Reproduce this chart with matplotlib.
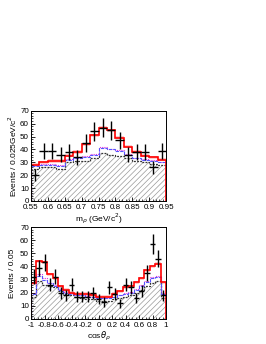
import numpy as np
import matplotlib
matplotlib.use('Agg')
import matplotlib.pyplot as plt
from matplotlib.ticker import MultipleLocator

plt.rcParams['font.family'] = ['Liberation Sans', 'DejaVu Sans']
plt.rcParams['hatch.linewidth'] = 0.5
plt.rcParams['hatch.color'] = '#888888'

# top panel: m_rho, 16 bins of 0.025
m_edges = np.linspace(0.55, 0.95, 17)
m_data = [20, 39, 39, 36, 38, 34, 45, 54, 57, 55, 47, 36, 38, 38, 26, 39]
m_total = [28, 30, 31, 31, 35, 38, 44, 51, 57, 55, 49, 42, 38, 35, 34, 32]
m_blue = [27, 28, 28, 27, 32, 33, 34, 36, 41, 40, 39, 36, 33, 32, 31, 30]
m_mag = [27.5, 28.5, 28.5, 27.5, 32.5, 33.5, 34.5, 36.5, 41.5, 40.5, 39.5, 36.5, 33.5, 32.5, 31.5, 30.5]
m_black = [25, 26, 26, 25, 30, 31, 31, 33, 37, 36, 35, 33, 31, 30, 29, 28]

# bottom panel: cos(theta_rho), 25 bins of 0.08
c_edges = np.linspace(-1, 1, 26)
c_data = [32, 39, 43, 26, 32, 20, 18, 26, 17, 17, 17, 20, 15, 13, 24, 19, 12, 26, 24, 16, 21, 35, 57, 46, 18]
c_total = [27, 44, 43, 34, 31, 25, 22, 20, 19, 19, 19, 18, 17, 17, 17, 19, 21, 24, 25, 28, 31, 37, 40, 42, 28]
c_blue = [19, 33, 30, 27, 25, 22, 20, 19, 18, 18, 17, 17, 16, 16, 16, 17, 18, 19, 20, 22, 25, 28, 31, 32, 19]
c_mag = [20, 34, 31, 27.5, 25.5, 22.5, 20.5, 19.5, 18.5, 18, 17.5, 17, 16.5, 16, 16.5, 17, 18, 19.5, 20.5, 22.5, 25.5, 29, 32, 33, 20]
c_black = [17, 29, 26, 25, 24, 21, 19, 18, 17, 16, 15, 15, 14, 14, 14, 15, 16, 17, 18, 20, 22, 25, 27, 29, 16]

fig = plt.figure(figsize=(2.66, 3.44), dpi=100)
ax1 = fig.add_axes([0.1165, 0.416, 0.508, 0.262])
ax2 = fig.add_axes([0.1165, 0.073, 0.508, 0.267])


def draw(ax, edges, data, total, blue, mag, black):
    centers = 0.5 * (edges[:-1] + edges[1:])
    hw = 0.5 * (edges[1] - edges[0])
    ax.stairs(black, edges, baseline=0, fill=True, facecolor='white',
              edgecolor='#999999', hatch='//////', linewidth=0)
    tot = np.array(total, dtype=float)
    ax.stairs(tot + 1.2, edges, baseline=tot - 1.2, fill=True,
              color='#ff9999', alpha=0.5, linewidth=0)
    ax.stairs(black, edges, color='#333333', linestyle=(0, (1.5, 1)), linewidth=0.9)
    ax.stairs(mag, edges, color='#dd33dd', linestyle=(0, (1, 1)), linewidth=0.8)
    ax.stairs(blue, edges, color='#5555ff', linestyle=(0, (3, 1)), linewidth=0.8)
    ax.stairs(total, edges, color='red', linewidth=1.2)
    ax.errorbar(centers, data, yerr=np.sqrt(data), xerr=hw, fmt='none',
                ecolor='black', elinewidth=1.0, capsize=0)
    ax.set_xlim(edges[0], edges[-1])
    ax.set_ylim(0, 70)
    ax.yaxis.set_major_locator(MultipleLocator(10))
    ax.yaxis.set_minor_locator(MultipleLocator(2))
    ax.tick_params(which='both', direction='in', labelsize=5.8, pad=1.5)
    ax.tick_params(axis='x', pad=2.5)
    ax.tick_params(which='major', length=3, width=0.6)
    ax.tick_params(which='minor', length=1.5, width=0.5)
    for s in ax.spines.values():
        s.set_linewidth(0.7)


draw(ax1, m_edges, m_data, m_total, m_blue, m_mag, m_black)
ax1.set_xticks(np.arange(0.55, 0.951, 0.05))
ax1.set_xticklabels(['0.55', '0.6', '0.65', '0.7', '0.75', '0.8', '0.85', '0.9', '0.95'])
ax1.xaxis.set_minor_locator(MultipleLocator(0.01))
ax1.set_xlabel(r'm$_\rho$ (GeV/c$^2$)', fontsize=6, labelpad=0.3)
ax1.set_ylabel(r'Events / 0.025GeV/c$^2$', fontsize=6, labelpad=1)

draw(ax2, c_edges, c_data, c_total, c_blue, c_mag, c_black)
ax2.set_xticks(np.arange(-1, 1.01, 0.2))
ax2.set_xticklabels(['-1', '-0.8', '-0.6', '-0.4', '-0.2', '0', '0.2', '0.4', '0.6', '0.8', '1'])
ax2.xaxis.set_minor_locator(MultipleLocator(0.05))
ax2.set_xlabel(r'cos$\theta_\rho$', fontsize=6, labelpad=0.3)
ax2.set_ylabel('Events / 0.05', fontsize=6, labelpad=3)

fig.savefig('out.png', dpi=100)
